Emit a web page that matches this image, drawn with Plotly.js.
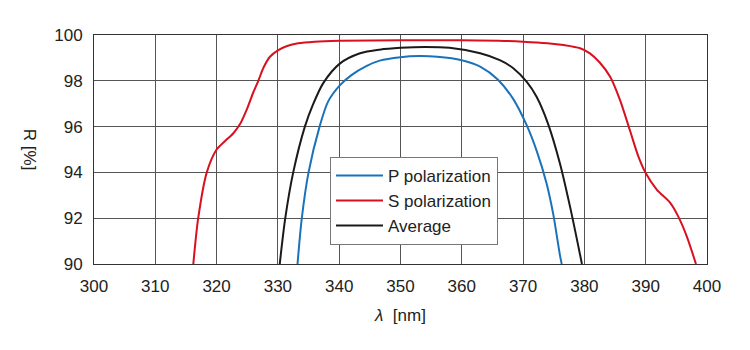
<!DOCTYPE html>
<html>
<head>
<meta charset="utf-8">
<script src="https://cdn.plot.ly/plotly-3.0.1.min.js"></script>
<style>html,body{margin:0;padding:0;background:#fff;}#chart{width:750px;height:350px;}</style>
</head>
<body>
<div id="chart"></div>
<script>
const seriesNames = ["P polarization", "S polarization", "Average"];

const pX = [333.2, 333.9, 335.0, 336.8, 338.2, 340.1, 342.0, 344.5, 346.6, 350, 353, 356, 360, 363, 365.9, 368.4, 370.6, 372.2, 373.8, 374.9, 376.0, 376.3];
const pY = [90, 92, 94, 96, 97.1, 97.8, 98.25, 98.65, 98.88, 99.03, 99.08, 99.05, 98.9, 98.62, 98.05, 97.2, 96.05, 94.95, 93.55, 92.2, 90.4, 90.0];

const sX = [316.2, 317.0, 318.4, 320.0, 321.3, 322.7, 323.8, 325.0, 326.0, 326.8, 327.7, 328.7, 330.0, 331.5, 333.3, 336, 340, 350, 360, 366, 370, 374, 376.6, 379.3, 380.9, 382.5, 384.2, 385.8, 387.4, 388.8, 390.0, 391.8, 394.0, 395.3, 396.7, 398.2];
const sY = [90, 92, 94, 95.0, 95.35, 95.7, 96.1, 96.8, 97.5, 98.0, 98.6, 99.05, 99.33, 99.52, 99.64, 99.71, 99.75, 99.77, 99.77, 99.75, 99.71, 99.64, 99.56, 99.42, 99.2, 98.8, 98.18, 97.17, 95.86, 94.7, 93.97, 93.25, 92.67, 92.08, 91.21, 90.0];

const aX = [330.3, 331.2, 332.5, 334.4, 335.7, 337.4, 340.1, 343.4, 346.6, 350, 354, 358, 363, 366.2, 368.4, 370.6, 372.2, 374.1, 376.0, 377.7, 379.6];
const aY = [90, 92, 94, 96, 96.95, 97.9, 98.75, 99.2, 99.36, 99.44, 99.48, 99.44, 99.2, 98.9, 98.55, 97.95, 97.3, 96.1, 94.4, 92.45, 90.0];

const xTicks = [300, 310, 320, 330, 340, 350, 360, 370, 380, 390, 400];
const yTicks = [90, 92, 94, 96, 98, 100];

const colors = ["#1a73ba", "#d8101f", "#1a1a1a"];

const traces = [
  {x: pX, y: pY, name: seriesNames[0], line: {color: colors[0]}},
  {x: sX, y: sY, name: seriesNames[1], line: {color: colors[1]}},
  {x: aX, y: aY, name: seriesNames[2], line: {color: colors[2]}}
].map(t => Object.assign(t, {type: "scatter", mode: "lines", line: Object.assign(t.line, {width: 2, shape: "spline", smoothing: 0.8})}));

const fam = "Liberation Sans, Arial, sans-serif";
const txt = "#222";

const layout = {
  width: 750, height: 350,
  margin: {l: 94, r: 43, t: 35, b: 86},
  paper_bgcolor: "#fff", plot_bgcolor: "#fff",
  font: {family: fam, size: 17, color: txt},
  showlegend: true,
  legend: {
    x: 0.385, y: 0.468, xanchor: "left", yanchor: "top",
    bordercolor: "#777", borderwidth: 1, bgcolor: "#fff",
    font: {family: fam, size: 17, color: txt},
    itemwidth: 47, tracegroupgap: 0
  },
  xaxis: {
    range: [300, 400], tickvals: xTicks, ticktext: xTicks.map(String),
    showgrid: true, gridcolor: "#555", gridwidth: 1,
    showline: true, linecolor: "#333", linewidth: 1, mirror: true,
    ticks: "outside", ticklen: 7, tickcolor: "rgba(0,0,0,0)", zeroline: false,
    tickfont: {family: fam, size: 17, color: txt},
    title: {text: "<i>λ</i>  [nm]", font: {family: fam, size: 17, color: txt}, standoff: 13}
  },
  yaxis: {
    range: [90, 100], tickvals: yTicks, ticktext: yTicks.map(String),
    showgrid: true, gridcolor: "#555", gridwidth: 1,
    showline: true, linecolor: "#333", linewidth: 1, mirror: true,
    ticks: "outside", ticklen: 7, tickcolor: "rgba(0,0,0,0)", zeroline: false,
    tickfont: {family: fam, size: 17, color: txt}
  },
  annotations: [{
    text: "R [%]", textangle: 90, xref: "paper", yref: "paper",
    x: -0.105, y: 0.5, xanchor: "center", yanchor: "middle", showarrow: false,
    font: {family: fam, size: 17, color: txt}
  }]
};

Plotly.newPlot("chart", traces, layout, {displayModeBar: false, staticPlot: true});
</script>
</body>
</html>
